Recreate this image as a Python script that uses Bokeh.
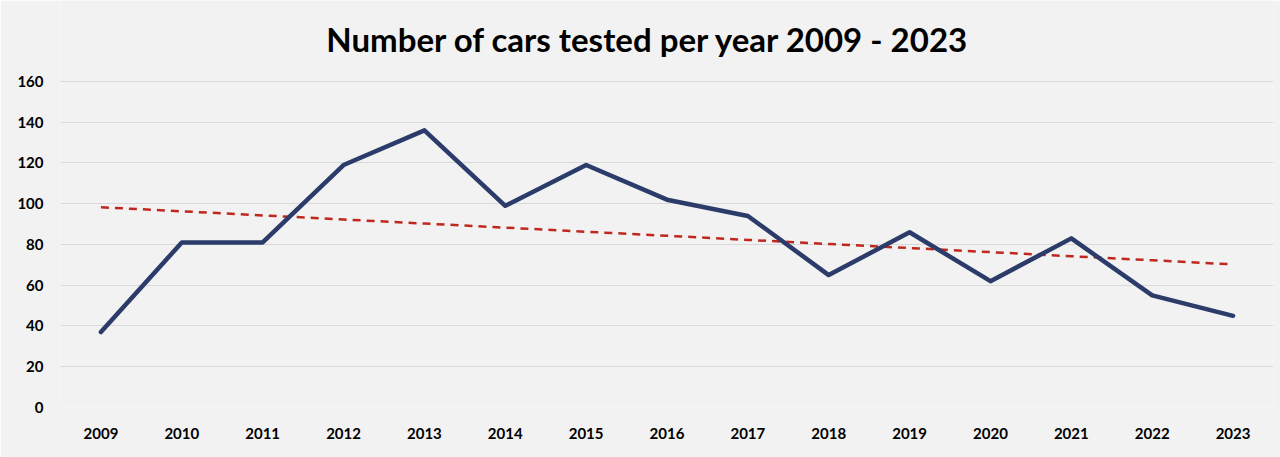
import numpy as np
from bokeh.plotting import figure
from bokeh.models import Range1d, FactorRange, Label
from bokeh.embed import file_html
from bokeh.resources import INLINE

years = [str(y) for y in range(2009, 2024)]
cars = [37, 81, 81, 119, 136, 99, 119, 102, 94, 65, 86, 62, 83, 55, 45]
y_ticks = [0, 20, 40, 60, 80, 100, 120, 140, 160]
title_text = "Number of cars tested per year 2009 - 2023"

# linear trendline from the data
idx = np.arange(len(cars))
slope, intercept = np.polyfit(idx, cars, 1)
trend = list(intercept + slope * idx)

BG = "#f2f2f2"
# frame spans the full height above the x labels; headroom above 160 holds the title
p = figure(width=1280, height=457, x_range=FactorRange(*years), y_range=Range1d(0, 199.75),
           output_backend="svg", toolbar_location=None,
           min_border_left=60, min_border_right=7, min_border_top=0, min_border_bottom=50)
p.background_fill_color = BG
p.border_fill_color = BG
p.outline_line_color = None

p.line(years, trend, line_color="#c0281f", line_width=2.5, line_dash="8 6")
p.line(years, cars, line_color="#2b3c6a", line_width=4.5, line_join="round", line_cap="round")

p.yaxis.ticker = y_ticks
p.xgrid.grid_line_color = None
p.ygrid.grid_line_color = "#d9d9d9"
p.ygrid.grid_line_width = 1
for ax in (p.xaxis[0], p.yaxis[0]):
    ax.axis_line_color = None
    ax.major_tick_line_color = None
    ax.minor_tick_line_color = None
    ax.major_label_text_font = "Lato"
    ax.major_label_text_font_style = "bold"
    ax.major_label_text_font_size = "15px"
    ax.major_label_text_color = "#000000"
p.xaxis.major_label_standoff = 14
p.yaxis.major_label_standoff = 11
p.x_range.range_padding = 0

title = Label(x=588, y=369, x_units="screen", y_units="screen", text=title_text,
              text_align="center", text_baseline="middle", text_font="Lato",
              text_font_style="bold", text_font_size="33px", text_color="#000000")
p.add_layout(title)

open("out.html", "w").write(file_html(p, INLINE))
